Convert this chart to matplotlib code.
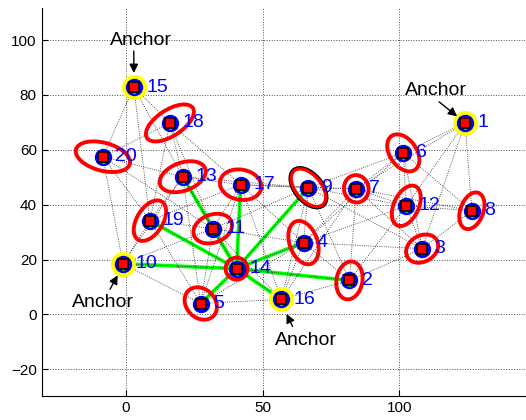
import matplotlib
matplotlib.use("Agg")
import matplotlib.pyplot as plt
from matplotlib.patches import Ellipse
from matplotlib.transforms import offset_copy

plt.rcParams['font.family'] = ['Liberation Sans', 'DejaVu Sans']

# node positions
node_id = list(range(1, 21))
node_x = [124.1, 81.8, 108.4, 65.0, 27.4, 101.5, 84.3, 126.6, 66.8, -1.1,
          31.8, 102.6, 20.8, 40.5, 2.9, 56.9, 42.0, 16.1, 8.8, -8.4]
node_y = [69.8, 12.4, 24.0, 26.2, 4.0, 58.9, 45.8, 37.8, 46.2, 18.5,
          31.3, 39.6, 50.2, 16.7, 82.9, 5.5, 47.3, 69.8, 34.2, 57.5]
anchors = [1, 10, 15, 16]
hub = 14

# uncertainty ellipses: node, major, minor, angle
ell_node = [2, 3, 4, 5, 6, 7, 8, 9, 11, 12, 13, 14, 17, 18, 19, 20]
ell_major = [13.9, 12.4, 16.4, 13.0, 15.0, 10.0, 13.9, 16.4, 14.6, 15.7, 17.5, 8.0, 15.3, 20.0, 16.4, 20.4]
ell_minor = [9.5, 9.5, 10.2, 10.5, 9.8, 9.0, 8.4, 9.5, 10.2, 9.1, 10.2, 8.0, 11.0, 9.5, 9.5, 10.2]
ell_angle = [80, 30, 110, 135, 125, 100, 70, 130, 20, 65, 20, 0, -10, 33, 58, -15]

# connectivity graph
edges = [(1, 3), (1, 6), (1, 7), (1, 8), (1, 12),
         (2, 3), (2, 4), (2, 7), (2, 9), (2, 12), (2, 14), (2, 16),
         (3, 4), (3, 6), (3, 7), (3, 8), (3, 9), (3, 12),
         (4, 5), (4, 6), (4, 7), (4, 9), (4, 11), (4, 12), (4, 14), (4, 16), (4, 17),
         (5, 10), (5, 11), (5, 13), (5, 14), (5, 16), (5, 17), (5, 19),
         (6, 7), (6, 8), (6, 9), (6, 12),
         (7, 8), (7, 9), (7, 12), (7, 16), (7, 17),
         (8, 12),
         (9, 11), (9, 12), (9, 13), (9, 14), (9, 16), (9, 17),
         (10, 11), (10, 13), (10, 14), (10, 19), (10, 20),
         (11, 13), (11, 14), (11, 16), (11, 17), (11, 18), (11, 19), (11, 20),
         (13, 14), (13, 15), (13, 17), (13, 18), (13, 19), (13, 20),
         (14, 16), (14, 17), (14, 19),
         (15, 18), (15, 19), (15, 20),
         (16, 17),
         (17, 18), (17, 19),
         (18, 19), (18, 20),
         (19, 20)]

x_ticks = [0, 50, 100]
y_ticks = [-20, 0, 20, 40, 60, 80, 100]

fig = plt.figure(figsize=(5.26, 4.2), dpi=100)
ax = fig.add_axes([41.7 / 526, 24.3 / 420, 1 - 41.7 / 526, (395.7 - 8) / 420])
ax.set_xlim(-30.8, 146.4)
ax.set_ylim(-29.6, 111.7)

def pos(n):
    i = node_id.index(n)
    return node_x[i], node_y[i]

# green links of the hub node
hx, hy = pos(hub)
for a, b in edges:
    if hub in (a, b):
        other = b if a == hub else a
        ox, oy = pos(other)
        ax.plot([hx, ox], [hy, oy], color=(0, 1, 0), lw=2.6, zorder=2,
                solid_capstyle='butt')

# dotted graph edges
for a, b in edges:
    ax_, ay_ = pos(a)
    bx_, by_ = pos(b)
    ax.plot([ax_, bx_], [ay_, by_], color='0.15', ls=':', lw=0.6, zorder=3)

# ellipses
for n, w, h, ang in zip(ell_node, ell_major, ell_minor, ell_angle):
    cx, cy = pos(n)
    ax.add_patch(Ellipse((cx, cy), w, h, angle=ang, fill=False,
                         edgecolor='red', lw=2.8, zorder=4))
# node 9 carries a thin black rim
cx, cy = pos(9)
ax.add_patch(Ellipse((cx, cy), 17.8, 11.0, angle=130, fill=False,
                     edgecolor='k', lw=0.8, zorder=4))

# markers
ancx = [pos(n)[0] for n in anchors]
ancy = [pos(n)[1] for n in anchors]
ax.plot(ancx, ancy, 'o', color='yellow', ms=17, mec='yellow', zorder=5)
ax.plot(node_x, node_y, 'o', color='blue', ms=11.5, mec='blue', zorder=6)
green_tr = offset_copy(ax.transData, fig=fig, x=0, y=-3.5, units='points')
ax.plot(node_x, node_y, 'o', color=(0, 0.8, 0), ms=2.5, mec='none', zorder=7,
        transform=green_tr)
ax.plot(node_x, node_y, 's', color='red', ms=7.5, mec='k', mew=1.1, zorder=8)

for n, x, y in zip(node_id, node_x, node_y):
    ax.annotate(str(n), (x, y), xytext=(9, 0), textcoords='offset points',
                ha='left', va='center', color='blue', fontsize=14, zorder=9)

# anchor callouts: text position, arrow tail, arrow head
callouts = [((5.5, 100.0), (2.9, 96.0), (2.9, 88.0)),
            ((113.5, 81.8), (114.6, 77.5), (121.2, 72.2)),
            ((-8.4, 4.5), (-5.8, 9.2), (-3.0, 14.3)),
            ((66.0, -9.3), (61.0, -4.4), (58.8, 0.2))]
for (tx, ty), tail, head in callouts:
    ax.text(tx, ty, 'Anchor', ha='center', va='center', fontsize=14, zorder=9)
    ax.annotate('', xy=head, xytext=tail,
                arrowprops=dict(arrowstyle='-|>', color='k', lw=1,
                                mutation_scale=13, shrinkA=0, shrinkB=0),
                zorder=9)

ax.set_xticks(x_ticks)
ax.set_yticks(y_ticks)
ax.grid(True, ls=':', color='0.3', lw=0.7)
ax.set_axisbelow(True)
ax.tick_params(direction='in', labelsize=11, length=4)
for s in ['top', 'right']:
    ax.spines[s].set_visible(False)

fig.savefig('out.png', dpi=100)
